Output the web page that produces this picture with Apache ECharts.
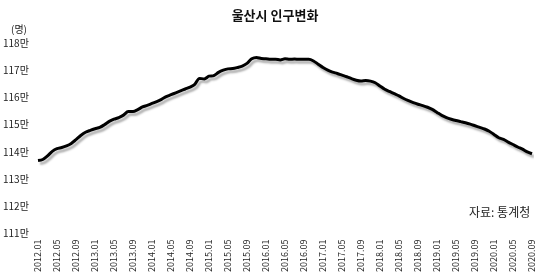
<!DOCTYPE html>
<html>
<head>
<meta charset="utf-8">
<script src="https://cdn.jsdelivr.net/npm/echarts@6/dist/echarts.min.js"></script>
<style>
  html, body { margin: 0; padding: 0; background: #fff; }
  #chart { width: 550px; height: 275px; }
</style>
</head>
<body>
<div id="chart"></div>
<script>
// months 2012.01 ~ 2020.09
const months = [];
for (let y = 2012; y <= 2020; y++) {
  for (let m = 1; m <= 12; m++) {
    if (y === 2020 && m > 9) break;
    months.push(y + '.' + (m < 10 ? '0' + m : m));
  }
}

// 인구 (만 명)
const population = [
  113.68, 113.72, 113.85, 114.02, 114.12, 114.16, 114.22, 114.31, 114.45, 114.60,
  114.72, 114.79, 114.85, 114.90, 115.00, 115.12, 115.20, 115.26, 115.35, 115.48,
  115.48, 115.55, 115.65, 115.71, 115.78, 115.85, 115.93, 116.03, 116.10, 116.17,
  116.24, 116.31, 116.38, 116.48, 116.70, 116.68, 116.78, 116.80, 116.92, 117.00,
  117.05, 117.06, 117.10, 117.15, 117.25, 117.42, 117.47, 117.43, 117.42, 117.40,
  117.40, 117.38, 117.42, 117.40, 117.41, 117.40, 117.40, 117.40, 117.34, 117.22,
  117.10, 117.00, 116.93, 116.88, 116.82, 116.76, 116.69, 116.63, 116.60, 116.62,
  116.60, 116.54, 116.42, 116.30, 116.22, 116.14, 116.06, 115.96, 115.88, 115.81,
  115.75, 115.70, 115.64, 115.56, 115.45, 115.34, 115.26, 115.20, 115.15, 115.11,
  115.07, 115.02, 114.96, 114.90, 114.84, 114.76, 114.64, 114.52, 114.46, 114.36,
  114.27, 114.18, 114.10, 114.00, 113.93
];

const yMin = 111;
const yMax = 118;

const font = '"Noto Sans CJK KR", "Noto Sans", sans-serif';
const chart = echarts.init(document.getElementById('chart'));

chart.setOption({
  animation: false,
  backgroundColor: '#fff',
  title: {
    text: '울산시 인구변화',
    left: 'center',
    top: 4,
    textStyle: { fontFamily: font, fontSize: 13, fontWeight: 'bold', color: '#111' }
  },
  grid: { left: 38, right: 18, top: 43, bottom: 40 },
  xAxis: {
    type: 'category',
    data: months,
    boundaryGap: false,
    axisLine: { show: false },
    axisTick: { show: false },
    splitLine: { show: false },
    axisLabel: {
      interval: 3,
      rotate: 90,
      margin: 6,
      fontFamily: font,
      fontSize: 9,
      color: '#222'
    }
  },
  yAxis: {
    type: 'value',
    min: yMin,
    max: yMax,
    interval: 1,
    axisLine: { show: false },
    axisTick: { show: false },
    splitLine: { show: false },
    axisLabel: {
      align: 'left',
      margin: 35,
      fontFamily: font,
      fontSize: 10,
      color: '#222',
      formatter: v => v + '만'
    }
  },
  graphic: [
    {
      type: 'text',
      left: 11,
      top: 24,
      style: { text: '(명)', font: '10px ' + font, fill: '#222' }
    },
    {
      type: 'text',
      left: 469,
      top: 206,
      style: { text: '자료: 통계청', font: '12px ' + font, fill: '#222' }
    }
  ],
  series: [{
    type: 'line',
    data: population,
    showSymbol: false,
    smooth: 0.3,
    lineStyle: {
      color: '#000',
      width: 3,
      shadowColor: 'rgba(0,0,0,0.3)',
      shadowBlur: 2,
      shadowOffsetX: 2,
      shadowOffsetY: 3
    }
  }]
});
</script>
</body>
</html>
